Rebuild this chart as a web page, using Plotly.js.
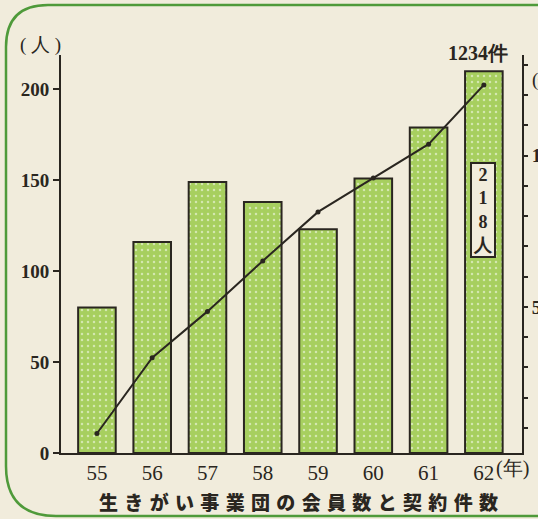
<!DOCTYPE html>
<html>
<head>
<meta charset="utf-8">
<script src="https://cdn.plot.ly/plotly-3.0.1.min.js"></script>
<style>
  html, body { margin: 0; padding: 0; background: #f1ecdc; }
  #chart { width: 538px; height: 519px; }
</style>
</head>
<body>
<div id="chart"></div>
<script>
// ---- data ----
const years = ['55', '56', '57', '58', '59', '60', '61', '62'];
const members = [80, 116, 149, 138, 123, 151, 179, 210];      // 会員数 (人)
const contracts = [81, 332, 485, 652, 814, 926, 1038, 1234];  // 契約件数 (件)
const leftTicks = [0, 50, 100, 150, 200];
const rightTicks = [100, 200, 300, 400, 500, 600, 700, 800, 900, 1000, 1100, 1200, 1300];
const rightTickLabels = ['', '', '', '', '500', '', '', '', '', '1000', '', '', ''];
const titleText = '生きがい事業団の会員数と契約件数';

// ---- geometry helpers (pixel -> paper) ----
const W = 538, H = 519;
const M = { l: 61, r: 16, t: 55, b: 66 };
const PW = W - M.l - M.r, PH = H - M.t - M.b;
const px = p => (p - M.l) / PW;
const py = p => (H - M.b - p) / PH;

const ink = '#2a2620';
const xIdx = years.map((_, i) => i);

const bars = {
  type: 'bar',
  x: xIdx,
  y: members,
  marker: {
    color: '#a7cf5f',
    line: { color: ink, width: 2 },
    pattern: { shape: '.', fgcolor: '#ffffff', fillmode: 'overlay', size: 6, solidity: 0.14 }
  },
  hoverinfo: 'skip',
  showlegend: false
};

const line = {
  type: 'scatter',
  mode: 'lines+markers',
  x: xIdx,
  y: contracts,
  yaxis: 'y2',
  line: { color: ink, width: 2 },
  marker: { color: ink, size: 5 },
  hoverinfo: 'skip',
  showlegend: false
};

// decorative rounded frame
const f = (x, y) => px(x).toFixed(5) + ' ' + py(y).toFixed(5);
const framePath = 'M ' + f(545, 5) + ' L ' + f(48, 5) + ' Q ' + f(6, 5) + ' ' + f(6, 47) +
  ' L ' + f(6, 466) + ' Q ' + f(6, 516) + ' ' + f(56, 516) + ' L ' + f(545, 516);

const serif = 'Liberation Serif, DejaVu Serif, serif';
const cjk = 'Noto Sans CJK JP, Noto Sans CJK SC, sans-serif';

const layout = {
  width: W, height: H,
  margin: M,
  paper_bgcolor: '#f1ecdc',
  plot_bgcolor: 'rgba(0,0,0,0)',
  bargap: 0.32,
  xaxis: {
    range: [-0.65, 7.69],
    tickmode: 'array', tickvals: xIdx, ticktext: years,
    showline: true, linecolor: ink, linewidth: 2,
    ticks: '', showgrid: false, zeroline: false,
    tickfont: { family: serif, size: 21, color: ink },
    fixedrange: true
  },
  yaxis: {
    range: [0, 218.9],
    tickmode: 'array', tickvals: leftTicks,
    showline: true, linecolor: ink, linewidth: 2,
    ticks: 'outside', ticklen: 6, tickwidth: 2, tickcolor: ink,
    showgrid: false, zeroline: false,
    tickfont: { family: serif, size: 19, color: ink, weight: 'bold' },
    ticklabelstandoff: 0,
    fixedrange: true
  },
  yaxis2: {
    overlaying: 'y', side: 'right',
    range: [16.6, 1333],
    tickmode: 'array', tickvals: rightTicks, ticktext: rightTickLabels,
    showline: true, linecolor: ink, linewidth: 2,
    ticks: 'outside', ticklen: 4, tickwidth: 2, tickcolor: ink,
    showgrid: false, zeroline: false,
    tickfont: { family: serif, size: 19, color: ink, weight: 'bold' },
    fixedrange: true
  },
  shapes: [
    { type: 'path', xref: 'paper', yref: 'paper', path: framePath,
      line: { color: '#4f9a3a', width: 2.5 }, layer: 'below' }
  ],
  annotations: [
    { xref: 'paper', yref: 'paper', x: px(40), y: py(45), text: '( 人 )', showarrow: false,
      xanchor: 'center', yanchor: 'middle', font: { family: serif, size: 19, color: ink } },
    { xref: 'paper', yref: 'paper', x: px(530), y: py(80), text: '(件)', showarrow: false,
      xanchor: 'left', yanchor: 'middle', font: { family: serif, size: 19, color: ink } },
    { xref: 'paper', yref: 'paper', x: px(494), y: py(468), text: '(年)', showarrow: false,
      xanchor: 'left', yanchor: 'middle', font: { family: serif, size: 20, color: ink } },
    { xref: 'x', yref: 'paper', x: 7, y: py(53), text: contracts[7] + '件', showarrow: false,
      xanchor: 'center', yanchor: 'middle', xshift: -6, font: { family: serif, size: 20, color: ink, weight: 'bold' } },
    { xref: 'x', yref: 'paper', x: 7, y: py(210), text: '2<br>1<br>8<br>人', showarrow: false,
      xanchor: 'center', yanchor: 'middle', xshift: -1,
      bgcolor: '#f1ecdc', bordercolor: ink, borderwidth: 2, borderpad: 1,
      font: { family: serif, size: 18, color: ink, weight: 'bold' } },
    { xref: 'paper', yref: 'paper', x: px(298), y: py(501), text: titleText.split('').join('\u2004'), showarrow: false,
      xanchor: 'center', yanchor: 'middle', font: { family: cjk, size: 19, color: ink, weight: 900 } }
  ]
};

Plotly.newPlot('chart', [bars, line], layout, { staticPlot: true, displayModeBar: false });
</script>
</body>
</html>
